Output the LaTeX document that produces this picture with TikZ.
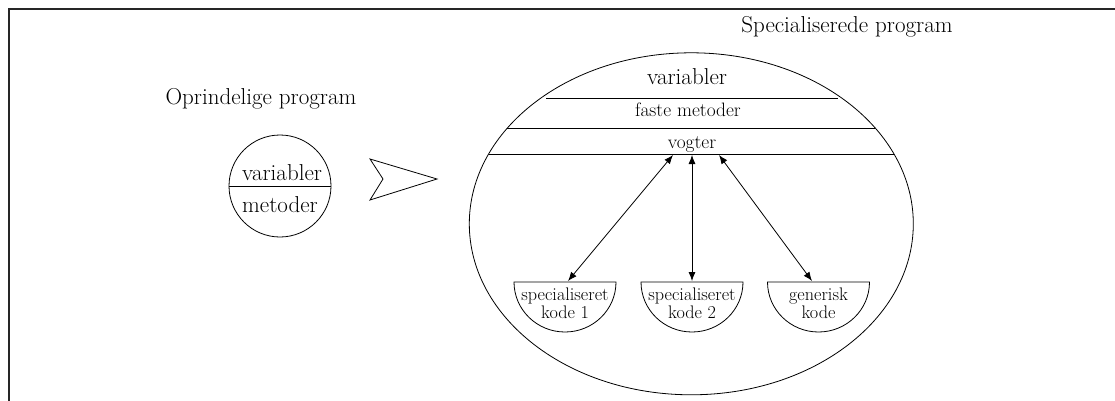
\documentclass[tikz,border=0pt]{standalone}
\usetikzlibrary{shapes.geometric,arrows.meta}
\begin{document}
\begin{tikzpicture}[x=1pt,y=1pt,
  shape line/.style={line width=0.8pt},
  bigtext/.style={font=\fontsize{23}{27}\selectfont, inner sep=0pt, anchor=base},
  midtext/.style={font=\fontsize{19.4}{23}\selectfont, inner sep=0pt, anchor=base},
  smalltext/.style={font=\fontsize{18.2}{22}\selectfont, inner sep=0pt, anchor=base},
  link/.style={line width=0.8pt, {Latex[length=9pt,width=7pt]}-{Latex[length=9pt,width=7pt]}},
  frame/.style={line width=1.6pt, black!85}]
\useasboundingbox (0,-401) rectangle (1115,0);

% frame edges
\draw[frame] (9,-401) -- (9,-9) -- (1115,-9);

% original program
\node[bigtext] (origtitle) at (261,-105) {Oprindelige program};
\node[circle, draw, shape line, minimum size=102pt, inner sep=0pt] (orig) at (280,-186) {};
\draw[shape line] (orig.west) -- (orig.east);
\node[bigtext] (origvar) at (282,-180) {variabler};
\node[bigtext] (origmet) at (280,-212) {metoder};

% transformation chevron
\draw[shape line] (370,-159) -- (437,-179) -- (370,-200) -- (383,-179) -- cycle;

% specialised program
\node[bigtext] (spectitle) at (847,-33) {Specialiserede program};
\node[ellipse, draw, shape line, minimum width=444pt, minimum height=342pt, inner sep=0pt] (spec) at (691.3,-223.8) {};

\draw[shape line] (546,-98) -- (838,-98);
\draw[shape line] (507.3,-128) -- (875.3,-128);
\draw[shape line] (488.6,-154) -- (894,-154);

\node[bigtext] (specvar) at (687,-85) {variabler};
\node[midtext] (specfast) at (688,-117) {faste metoder};
\node[midtext] (guard) at (692,-148) {vogter};

% code bowls
\foreach \name/\cx/\la/\lb in {kodeA/565/specialiseret/kode 1, kodeB/692/specialiseret/kode 2, kodeC/818.5/generisk/kode}{
  \draw[shape line] (\cx-51,-282) -- (\cx+51,-282) arc[start angle=0, end angle=-180, x radius=51, y radius=50] -- cycle;
  \coordinate (\name) at (\cx,-282);
  \node[smalltext] (\name a) at (\cx,-300) {\la};
  \node[smalltext] (\name b) at (\cx,-318) {\lb};
}

% connectors between guard line and code bowls
\coordinate (gA) at (673,-155);
\coordinate (gB) at (692,-155);
\coordinate (gC) at (719,-155);
\coordinate (tA) at (568,-281);
\coordinate (tB) at (692,-281);
\coordinate (tC) at (812,-281);
\draw[link] (gA) -- (tA);
\draw[link] (gB) -- (tB);
\draw[link] (gC) -- (tC);
\end{tikzpicture}
\end{document}
